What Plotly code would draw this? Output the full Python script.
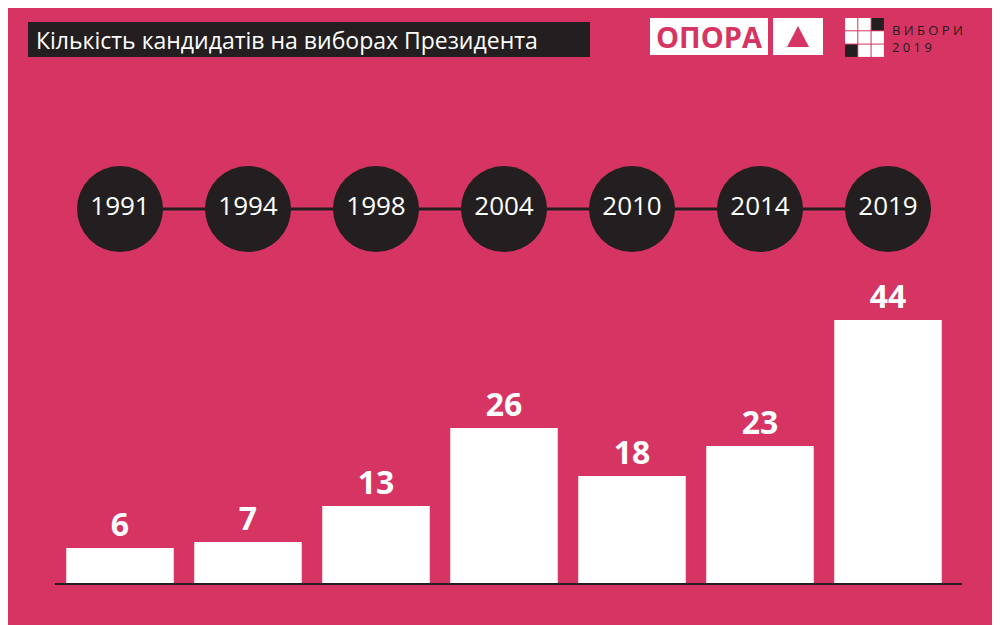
import plotly.graph_objects as go

years = ["1991", "1994", "1998", "2004", "2010", "2014", "2019"]
candidates = [6, 7, 13, 26, 18, 23, 44]
title_text = "Кількість кандидатів на виборах Президента"

BG = "#D63462"
DARK = "#231F20"
OFF = 8  # page margin of the viewer
idx = list(range(len(years)))
circle_y = 62.5


def px(x):
    return (x - OFF) / 1000


def py(y):
    return 1 - (y - OFF) / 625


fig = go.Figure()
fig.add_trace(go.Scatter(x=idx, y=[circle_y] * len(idx), mode="lines",
                         line=dict(color=DARK, width=3), hoverinfo="skip"))
fig.add_trace(go.Scatter(x=idx, y=[circle_y] * len(idx), mode="markers+text",
                         marker=dict(size=86, color=DARK), text=years,
                         textfont=dict(color="white", size=26, family="Open Sans"),
                         textposition="middle center", hoverinfo="skip"))
fig.add_trace(go.Bar(x=idx, y=candidates, width=0.84, marker=dict(color="white", line=dict(width=0)),
                     text=["<b>%d</b>" % v for v in candidates], textposition="outside", cliponaxis=False,
                     textfont=dict(color="white", size=32, family="Open Sans"), hoverinfo="skip"))

shapes = [
    dict(type="line", xref="paper", yref="y", x0=px(55), x1=px(962), y0=0, y1=0,
         line=dict(color=DARK, width=2)),
    dict(type="rect", xref="paper", yref="paper", x0=px(28), x1=px(590), y0=py(22), y1=py(57),
         fillcolor=DARK, line=dict(width=0)),
    dict(type="rect", xref="paper", yref="paper", x0=px(650), x1=px(768), y0=py(18), y1=py(55),
         fillcolor="white", line=dict(width=0)),
    dict(type="rect", xref="paper", yref="paper", x0=px(773), x1=px(823), y0=py(18), y1=py(55),
         fillcolor="white", line=dict(width=0)),
    dict(type="path", xref="paper", yref="paper",
         path="M %f %f L %f %f L %f %f Z" % (px(787), py(47), px(809), py(47), px(798), py(26)),
         fillcolor=BG, line=dict(width=0)),
]
fills = [["white", "white", DARK], ["white", "white", "white"], [DARK, "white", "white"]]
for r in range(3):
    for c in range(3):
        x0 = 845 + c * 13.3
        y0 = 18 + r * 13.3
        shapes.append(dict(type="rect", xref="paper", yref="paper",
                           x0=px(x0), x1=px(x0 + 12.3), y0=py(y0), y1=py(y0 + 12.3),
                           fillcolor=fills[r][c], line=dict(width=0)))

annotations = [
    dict(text=title_text, xref="paper", yref="paper", x=px(34), y=py(39.5),
         xanchor="left", yanchor="middle", showarrow=False,
         font=dict(color="white", size=23, family="Open Sans")),
    dict(text="<b>ОПОРА</b>", xref="paper", yref="paper", x=px(709), y=py(36.5),
         xanchor="center", yanchor="middle", showarrow=False,
         font=dict(color=BG, size=29, family="Open Sans")),
    dict(text="В И Б О Р И<br>2 0 1 9", xref="paper", yref="paper", x=px(890), y=py(38),
         xanchor="left", yanchor="middle", showarrow=False, align="left",
         font=dict(color=DARK, size=13, family="Open Sans")),
]

fig.update_layout(
    width=1000, height=625, margin=dict(l=0, r=0, t=0, b=0),
    paper_bgcolor=BG, plot_bgcolor=BG, showlegend=False,
    xaxis=dict(range=[-0.9375 + OFF / 128, 6.875 + OFF / 128], visible=False, fixedrange=True),
    yaxis=dict(range=[-6.83 - OFF / 6, 97.33 - OFF / 6], visible=False, fixedrange=True),
    shapes=shapes, annotations=annotations,
)
fig.write_html("out.html")
